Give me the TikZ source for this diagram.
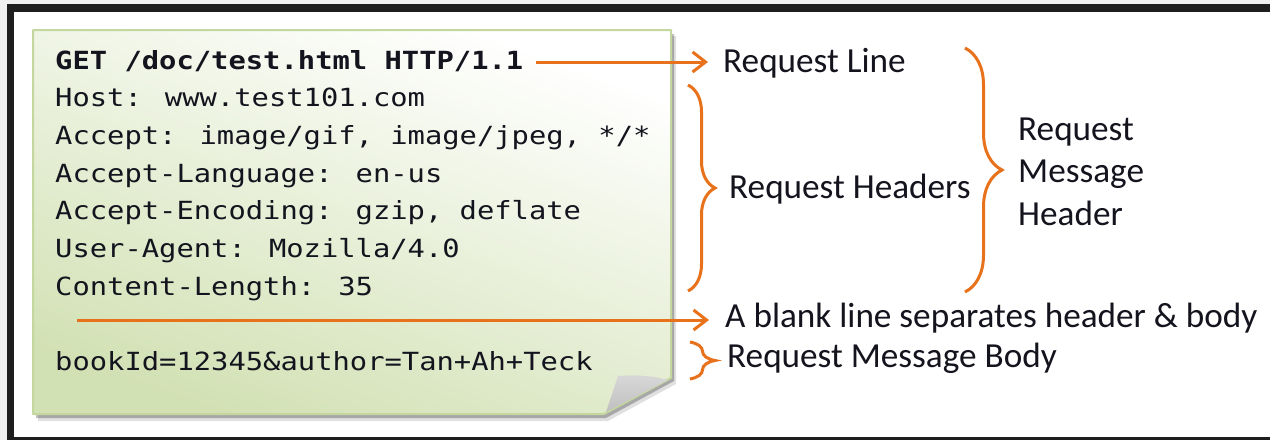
\documentclass[tikz,border=0pt]{standalone}
\usepackage{fontspec}
\setmainfont{Carlito}
\newfontfamily\codefont[FakeStretch=1.152]{DejaVu Sans Mono}
\usetikzlibrary{arrows.meta,decorations.pathreplacing}

\definecolor{accent}{RGB}{232,114,28}
\definecolor{notegreen}{RGB}{210,225,180}
\definecolor{noteedge}{RGB}{196,215,158}
\definecolor{frameink}{RGB}{30,30,30}
\definecolor{outside}{RGB}{240,240,240}
\definecolor{ink}{RGB}{20,20,30}

\tikzset{
  code/.style={anchor=base west, inner sep=0pt, text=ink,
    font=\codefont\fontsize{25}{30}\selectfont},
  label/.style={anchor=base west, inner sep=0pt, text=ink,
    font=\fontsize{35.2}{42}\selectfont},
  conn/.style={draw=accent, line width=3pt,
    -{Straight Barb[length=13pt,width=20pt]}},
  bracket/.style={draw=accent, line width=3pt, decorate,
    decoration={brace, amplitude=#1}},
}

\begin{document}
\begin{tikzpicture}[x=1pt,y=-1pt]
\useasboundingbox (0,0) rectangle (1270,440);

% window frame
\fill[outside] (0,0) rectangle (1270,440);
\fill[frameink] (7,4) rectangle (1270,440);
\fill[white] (14,12) rectangle (1270,437);

% sticky note: soft shadow, body, folded corner
\fill[black, opacity=0.12] (38,36) -- (676,36) -- (676,384) -- (608,421) -- (38,421) -- cycle;
\fill[black, opacity=0.25] (36,34) -- (674,34) -- (674,381) -- (606,418) -- (36,418) -- cycle;
\shade[top color=white, bottom color=notegreen, shading angle=-20]
  (33,30) -- (671,30) -- (671,378) -- (604,414) -- (33,414) -- cycle;
\draw[noteedge, line width=2pt, line join=round]
  (33,30) -- (671,30) -- (671,378) -- (604,414) -- (33,414) -- cycle;
\shade[top color=gray!30, bottom color=gray!50]
  (618,376) .. controls (640,374) and (657,377) .. (668,380) -- (606,412) -- cycle;

% request text
\node[code, font=\codefont\bfseries\fontsize{25}{30}\selectfont] (get) at (55,69) {GET /doc/test.html HTTP/1.1};
\node[code] (host) at (55,106.7) {Host: www.test101.com};
\node[code] (accept) at (55,144.4) {Accept: image/gif, image/jpeg, */*};
\node[code] (lang) at (55,182.1) {Accept-Language: en-us};
\node[code] (enc) at (55,219.8) {Accept-Encoding: gzip, deflate};
\node[code] (agent) at (55,257.5) {User-Agent: Mozilla/4.0};
\node[code] (len) at (55,295.2) {Content-Length: 35};
\node[code] (body) at (55,370) {bookId=12345\&author=Tan+Ah+Teck};

% annotations
\node[label] (reqline) at (723,72) {Request Line};
\node[label] (headers) at (729,198) {Request Headers};
\node[label] (msgA) at (1018,140) {Request};
\node[label] (msgB) at (1018,182.5) {Message};
\node[label] (msgC) at (1018,225) {Header};
\node[label] (blank) at (725,327) {A blank line separates header \& body};
\node[label] (msgbody) at (727,367) {Request Message Body};

% arrows
\coordinate (blankstart) at (77,320);
\draw[conn] ([xshift=12pt]get.east |- 0,62) -- ([xshift=-15pt]reqline.west |- 0,62);
\draw[conn] (blankstart) -- ([xshift=-16pt]blank.west |- blankstart);

% braces
\draw[bracket=27pt] (688,85) -- (688,291);
\draw[bracket=25pt] (690,342) -- (690,379);
\draw[bracket=37pt] (965,48) -- (965,292);
\end{tikzpicture}
\end{document}
